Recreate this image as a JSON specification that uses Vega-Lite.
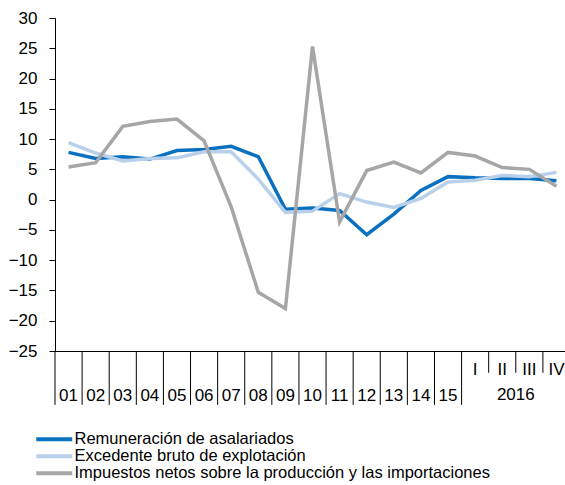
{
  "$schema": "https://vega.github.io/schema/vega-lite/v6.json",
  "autosize": {"type": "none"},
  "padding": {"left": 55, "top": 18, "right": 0, "bottom": 134},
  "width": 510,
  "height": 333,
  "config": {"font": "Liberation Sans", "view": {"stroke": null}},
  "datasets": {
    "series": [
      {"cat": "01", "serie": "Remuneración de asalariados", "v": 7.8},
      {"cat": "02", "serie": "Remuneración de asalariados", "v": 6.8},
      {"cat": "03", "serie": "Remuneración de asalariados", "v": 7.1},
      {"cat": "04", "serie": "Remuneración de asalariados", "v": 6.7},
      {"cat": "05", "serie": "Remuneración de asalariados", "v": 8.1},
      {"cat": "06", "serie": "Remuneración de asalariados", "v": 8.3},
      {"cat": "07", "serie": "Remuneración de asalariados", "v": 8.8},
      {"cat": "08", "serie": "Remuneración de asalariados", "v": 7.1},
      {"cat": "09", "serie": "Remuneración de asalariados", "v": -1.6},
      {"cat": "10", "serie": "Remuneración de asalariados", "v": -1.4},
      {"cat": "11", "serie": "Remuneración de asalariados", "v": -1.8},
      {"cat": "12", "serie": "Remuneración de asalariados", "v": -5.8},
      {"cat": "13", "serie": "Remuneración de asalariados", "v": -2.4},
      {"cat": "14", "serie": "Remuneración de asalariados", "v": 1.5},
      {"cat": "15", "serie": "Remuneración de asalariados", "v": 3.8},
      {"cat": "I", "serie": "Remuneración de asalariados", "v": 3.6},
      {"cat": "II", "serie": "Remuneración de asalariados", "v": 3.5},
      {"cat": "III", "serie": "Remuneración de asalariados", "v": 3.5},
      {"cat": "IV", "serie": "Remuneración de asalariados", "v": 3.1},
      {"cat": "01", "serie": "Excedente bruto de explotación", "v": 9.4},
      {"cat": "02", "serie": "Excedente bruto de explotación", "v": 7.7},
      {"cat": "03", "serie": "Excedente bruto de explotación", "v": 6.4},
      {"cat": "04", "serie": "Excedente bruto de explotación", "v": 6.8},
      {"cat": "05", "serie": "Excedente bruto de explotación", "v": 6.9},
      {"cat": "06", "serie": "Excedente bruto de explotación", "v": 7.9},
      {"cat": "07", "serie": "Excedente bruto de explotación", "v": 7.9},
      {"cat": "08", "serie": "Excedente bruto de explotación", "v": 3.4},
      {"cat": "09", "serie": "Excedente bruto de explotación", "v": -2.1},
      {"cat": "10", "serie": "Excedente bruto de explotación", "v": -1.9},
      {"cat": "11", "serie": "Excedente bruto de explotación", "v": 1.0},
      {"cat": "12", "serie": "Excedente bruto de explotación", "v": -0.4},
      {"cat": "13", "serie": "Excedente bruto de explotación", "v": -1.3},
      {"cat": "14", "serie": "Excedente bruto de explotación", "v": 0.2},
      {"cat": "15", "serie": "Excedente bruto de explotación", "v": 2.9},
      {"cat": "I", "serie": "Excedente bruto de explotación", "v": 3.2},
      {"cat": "II", "serie": "Excedente bruto de explotación", "v": 4.0},
      {"cat": "III", "serie": "Excedente bruto de explotación", "v": 3.8},
      {"cat": "IV", "serie": "Excedente bruto de explotación", "v": 4.5},
      {"cat": "01", "serie": "Impuestos netos sobre la producción y las importaciones", "v": 5.4},
      {"cat": "02", "serie": "Impuestos netos sobre la producción y las importaciones", "v": 6.1},
      {"cat": "03", "serie": "Impuestos netos sobre la producción y las importaciones", "v": 12.1},
      {"cat": "04", "serie": "Impuestos netos sobre la producción y las importaciones", "v": 12.9},
      {"cat": "05", "serie": "Impuestos netos sobre la producción y las importaciones", "v": 13.3},
      {"cat": "06", "serie": "Impuestos netos sobre la producción y las importaciones", "v": 9.7},
      {"cat": "07", "serie": "Impuestos netos sobre la producción y las importaciones", "v": -1.2},
      {"cat": "08", "serie": "Impuestos netos sobre la producción y las importaciones", "v": -15.3},
      {"cat": "09", "serie": "Impuestos netos sobre la producción y las importaciones", "v": -18.0},
      {"cat": "10", "serie": "Impuestos netos sobre la producción y las importaciones", "v": 25.3},
      {"cat": "11", "serie": "Impuestos netos sobre la producción y las importaciones", "v": -3.7},
      {"cat": "12", "serie": "Impuestos netos sobre la producción y las importaciones", "v": 4.8},
      {"cat": "13", "serie": "Impuestos netos sobre la producción y las importaciones", "v": 6.2},
      {"cat": "14", "serie": "Impuestos netos sobre la producción y las importaciones", "v": 4.4},
      {"cat": "15", "serie": "Impuestos netos sobre la producción y las importaciones", "v": 7.8},
      {"cat": "I", "serie": "Impuestos netos sobre la producción y las importaciones", "v": 7.2},
      {"cat": "II", "serie": "Impuestos netos sobre la producción y las importaciones", "v": 5.3},
      {"cat": "III", "serie": "Impuestos netos sobre la producción y las importaciones", "v": 5.0},
      {"cat": "IV", "serie": "Impuestos netos sobre la producción y las importaciones", "v": 2.2}
    ],
    "fullDiv": [
      {"cat": "01"}, {"cat": "02"}, {"cat": "03"}, {"cat": "04"}, {"cat": "05"},
      {"cat": "06"}, {"cat": "07"}, {"cat": "08"}, {"cat": "09"}, {"cat": "10"},
      {"cat": "11"}, {"cat": "12"}, {"cat": "13"}, {"cat": "14"}, {"cat": "15"},
      {"cat": "I"}
    ],
    "shortDiv": [{"cat": "II"}, {"cat": "III"}, {"cat": "IV"}],
    "year": [{"cat": "II", "label": "2016"}]
  },
  "layer": [
    {
      "data": {"name": "series"},
      "mark": {"type": "line", "strokeWidth": 3.5},
      "encoding": {
        "x": {
          "field": "cat", "type": "nominal",
          "scale": {
            "domain": ["01","02","03","04","05","06","07","08","09","10","11","12","13","14","15","I","II","III","IV"],
            "range": [0, 515],
            "paddingInner": 0, "paddingOuter": 0
          },
          "axis": {
            "title": null,
            "ticks": false,
            "labelAngle": 0,
            "labelFontSize": 17,
            "labelBaseline": "middle",
            "labelColor": "#000000",
            "labelOverlap": false,
            "labelPadding": {"condition": {"test": "indexof(['I','II','III','IV'], datum.value) >= 0", "value": 18}, "value": 44},
            "domainColor": "#000000",
            "domainWidth": 1
          }
        },
        "y": {
          "field": "v", "type": "quantitative",
          "scale": {"domain": [-25, 30], "nice": false, "zero": false},
          "axis": {
            "title": null,
            "values": [-25,-20,-15,-10,-5,0,5,10,15,20,25,30],
            "tickCount": 12,
            "grid": false,
            "tickSize": 6,
            "tickColor": "#000000",
            "domainColor": "#000000",
            "labelFontSize": 17,
            "labelPadding": 12,
            "labelOverlap": false,
            "labelFlush": false,
            "labelColor": "#000000"
          }
        },
        "color": {
          "field": "serie", "type": "nominal",
          "scale": {
            "domain": ["Remuneración de asalariados", "Excedente bruto de explotación", "Impuestos netos sobre la producción y las importaciones"],
            "range": ["#0a70c0", "#b9d0ea", "#a6a6a6"]
          },
          "legend": {
            "title": null,
            "orient": "none",
            "legendX": -9,
            "legendY": 413,
            "symbolType": "M-3,0H3",
            "symbolSize": 144,
            "symbolStrokeWidth": 4,
            "labelFontSize": 16.5,
            "labelColor": "#000000",
            "labelOffset": 12,
            "rowPadding": 0,
            "labelLimit": 600
          }
        }
      }
    },
    {
      "data": {"name": "fullDiv"},
      "mark": {"type": "rule", "color": "#000000", "strokeWidth": 1},
      "encoding": {
        "x": {"field": "cat", "type": "nominal", "bandPosition": 0},
        "y": {"datum": -25},
        "y2": {"datum": -33.9}
      }
    },
    {
      "data": {"name": "shortDiv"},
      "mark": {"type": "rule", "color": "#000000", "strokeWidth": 1},
      "encoding": {
        "x": {"field": "cat", "type": "nominal", "bandPosition": 0},
        "y": {"datum": -25},
        "y2": {"datum": -28.6}
      }
    },
    {
      "data": {"name": "year"},
      "mark": {"type": "text", "fontSize": 17, "baseline": "middle", "align": "center", "dy": 44, "color": "#000000"},
      "encoding": {
        "x": {"field": "cat", "type": "nominal", "bandPosition": 1},
        "y": {"datum": -25},
        "text": {"field": "label"}
      }
    }
  ]
}
